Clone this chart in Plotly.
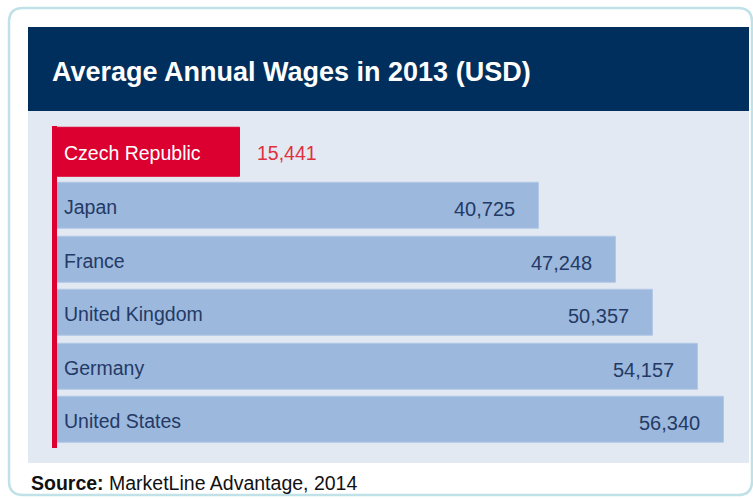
import plotly.graph_objects as go

# ---- data ----
countries = ["Czech Republic", "Japan", "France", "United Kingdom", "Germany", "United States"]
wages = [15441, 40725, 47248, 50357, 54157, 56340]
title_text = "Average Annual Wages in 2013 (USD)"
source_bold = "Source:"
source_rest = "MarketLine Advantage, 2014"
highlight = "Czech Republic"

# ---- style ----
W, H = 753, 499
NAVY = "#002e5d"
PANEL = "#e2e9f3"
BAR = "#9cb8dc"
BAR_EDGE = "#b3c8e6"
RED = "#dc0030"
TXT = "#243a66"
FONT = "Arial, Liberation Sans, sans-serif"


def px(x):
    return x / W


def py(y):
    return 1 - y / H


colors = [RED if c == highlight else BAR for c in countries]
edges = [RED if c == highlight else BAR_EDGE for c in countries]
widths = [0.92 if c == highlight else 0.86 for c in countries]

fig = go.Figure()
fig.add_trace(go.Bar(
    x=wages, y=countries, orientation="h",
    marker=dict(color=colors, line=dict(color=edges, width=1)),
    width=widths, hoverinfo="skip",
))

annotations = []
for c, v in zip(countries, wages):
    is_hi = c == highlight
    annotations.append(dict(
        x=0, y=c, xref="x", yref="y", text=c, showarrow=False,
        xanchor="left", xshift=5, yshift=0 if is_hi else -1,
        font=dict(family=FONT, size=19.5, color="white" if is_hi else TXT),
    ))
    if is_hi:
        annotations.append(dict(
            x=v, y=c, xref="x", yref="y", text=f"{v:,}", showarrow=False,
            xanchor="left", xshift=15, yshift=0,
            font=dict(family=FONT, size=19.5, color="#e03040"),
        ))
    else:
        annotations.append(dict(
            x=v, y=c, xref="x", yref="y", text=f"{v:,}", showarrow=False,
            xanchor="right", xshift=-22, yshift=-3,
            font=dict(family=FONT, size=20, color=TXT),
        ))

annotations.append(dict(
    x=px(50), y=py(72), xref="paper", yref="paper", text=f"<b>{title_text}</b>",
    showarrow=False, xanchor="left", yanchor="middle",
    font=dict(family=FONT, size=27, color="white"),
))
annotations.append(dict(
    x=px(29), y=py(483), xref="paper", yref="paper",
    text=f"<b>{source_bold}</b> {source_rest}",
    showarrow=False, xanchor="left", yanchor="middle",
    font=dict(family=FONT, size=19.5, color="#111111"),
))

# rounded outer border path
x0, y0, x1, y1, r = px(9), py(8), px(752), py(495), 14
rx, ry = r / W, r / H
border_path = (
    f"M {x0+rx},{y0} L {x1-rx},{y0} Q {x1},{y0} {x1},{y0-ry} "
    f"L {x1},{y1+ry} Q {x1},{y1} {x1-rx},{y1} "
    f"L {x0+rx},{y1} Q {x0},{y1} {x0},{y1+ry} "
    f"L {x0},{y0-ry} Q {x0},{y0} {x0+rx},{y0} Z"
)

shapes = [
    dict(type="path", path=border_path, xref="paper", yref="paper",
         line=dict(color="#bfe1e7", width=2.5), fillcolor="white", layer="below"),
    dict(type="rect", xref="paper", yref="paper", x0=px(28), x1=px(749), y0=py(111), y1=py(463),
         fillcolor=PANEL, line=dict(width=0), layer="below"),
    dict(type="rect", xref="paper", yref="paper", x0=px(28), x1=px(749), y0=py(27), y1=py(111),
         fillcolor=NAVY, line=dict(width=0), layer="below"),
    dict(type="rect", xref="paper", yref="paper", x0=px(52), x1=px(57), y0=py(126), y1=py(448),
         fillcolor=RED, line=dict(width=0), layer="above"),
]

fig.update_layout(
    width=W, height=H,
    margin=dict(l=0, r=0, t=0, b=0),
    paper_bgcolor="white", plot_bgcolor="rgba(0,0,0,0)",
    showlegend=False,
    xaxis=dict(domain=[px(57), px(724)], range=[0, max(wages)], visible=False, fixedrange=True),
    yaxis=dict(domain=[py(446.75), py(125.75)], autorange="reversed", visible=False,
               categoryorder="array", categoryarray=countries, fixedrange=True),
    shapes=shapes,
    annotations=annotations,
    bargap=0,
)

fig.write_html(
    "out.html",
    config={"displayModeBar": False},
    post_script="document.body.style.margin='0';document.body.style.overflow='hidden';",
)
